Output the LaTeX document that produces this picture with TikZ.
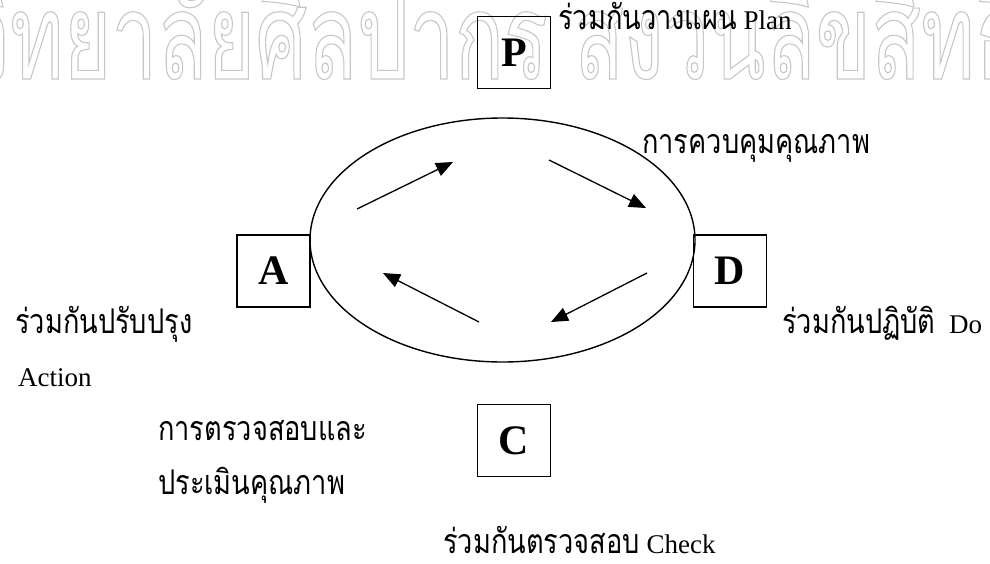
\documentclass[tikz,border=0pt]{standalone}
\usepackage{fontspec}
\setmainfont{Liberation Serif}
\newfontfamily\thaifont[Script=Thai,FakeStretch=0.8]{Loma}
\newfontfamily\wmfont[Script=Thai,FakeStretch=0.68]{Loma}
\usetikzlibrary{arrows.meta,shapes.geometric}
\definecolor{wmgray}{RGB}{200,200,200}
\newcommand\thtxt[1]{{\thaifont\fontsize{34}{40}\selectfont #1}}
\newcommand\wmtxt[1]{\special{pdf:literal direct 1 Tr 1.1 w 0.78 0.78 0.78 RG}#1\special{pdf:literal direct 0 Tr}}
\tikzset{
  letterbox/.style={draw, line width=1.4pt, minimum width=73pt, minimum height=72pt, inner sep=0pt,
    font=\fontsize{42}{42}\selectfont\bfseries},
  cyclearrow/.style={line width=1.3pt, -{Triangle[length=17pt,width=14pt]}},
  lbl/.style={anchor=base west, inner sep=0pt, font=\fontsize{27}{30}\selectfont},
  wm/.style={inner sep=0pt, text=wmgray, font=\wmfont\fontsize{120}{120}\selectfont}
}
\begin{document}
\begin{tikzpicture}[x=1pt,y=-1pt]
\useasboundingbox (0,0) rectangle (990,563);
\begin{scope}
\clip (0,0) rectangle (990,563);
\node[wm, anchor=base east] (wm1) at (548,79) {\wmtxt{มหาวิทยาลัยศิลปากร}};
\node[wm, anchor=base west] (wm2) at (574,79) {\wmtxt{สงวนลิขสิทธิ์}};
\end{scope}
% boxes
\node[letterbox] (P) at (514,52.5) {P};
\node[letterbox] (A) at (273.5,271) {A};
\node[letterbox] (D) at (730,271) {D};
\node[letterbox] (C) at (514,440.5) {C};
% cycle
\node[ellipse, draw, line width=1.4pt, minimum width=385pt, minimum height=244pt, inner sep=0pt] (ring) at (502.5,240) {};
% arrows
\coordinate (a1s) at (357,209); \coordinate (a1e) at (453,162);
\coordinate (a2s) at (549,160); \coordinate (a2e) at (646,208);
\coordinate (a3s) at (647,273); \coordinate (a3e) at (551,322);
\coordinate (a4s) at (479,322); \coordinate (a4e) at (383,273);
\draw[cyclearrow] (a1s) -- (a1e);
\draw[cyclearrow] (a2s) -- (a2e);
\draw[cyclearrow] (a3s) -- (a3e);
\draw[cyclearrow] (a4s) -- (a4e);
% labels
\node[lbl] (lp) at (558,29) {\thtxt{ร่วมกันวางแผน} Plan};
\node[lbl] (lq) at (642,153) {\thtxt{การควบคุมคุณภาพ}};
\node[lbl] (la1) at (15,333) {\thtxt{ร่วมกันปรับปรุง}};
\node[lbl] (la2) at (18,386) {Action};
\node[lbl] (le1) at (158,440) {\thtxt{การตรวจสอบและ}};
\node[lbl] (le2) at (158,494) {\thtxt{ประเมินคุณภาพ}};
\node[lbl] (ld) at (782,333) {\thtxt{ร่วมกันปฏิบัติ}\ \ Do};
\node[lbl] (lc) at (443,553) {\thtxt{ร่วมกันตรวจสอบ} Check};
\end{tikzpicture}
\end{document}
